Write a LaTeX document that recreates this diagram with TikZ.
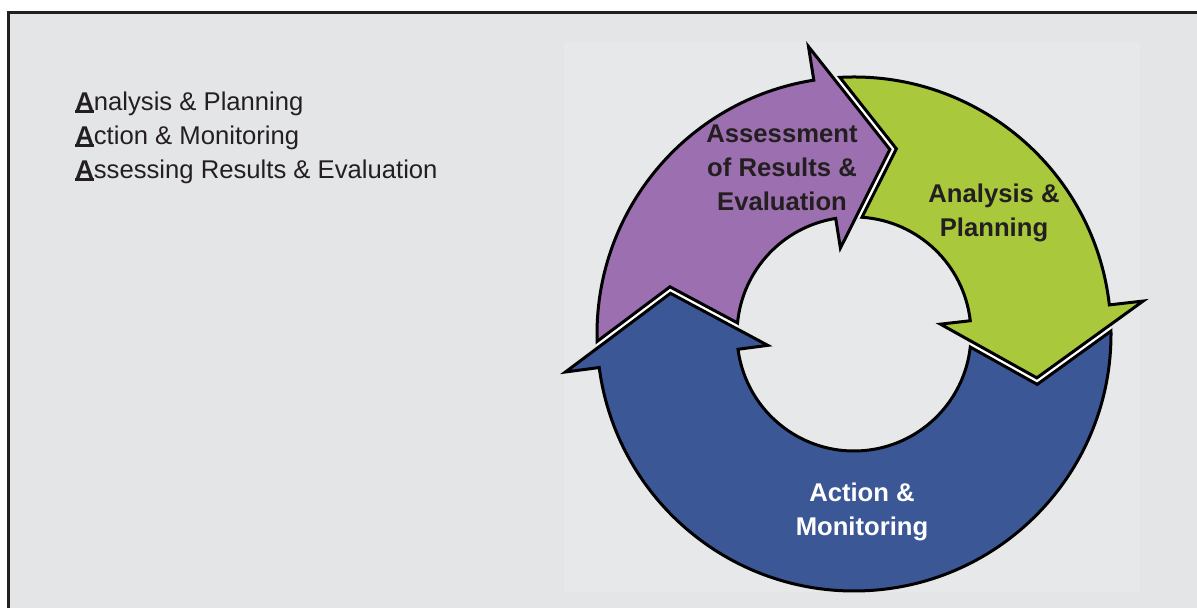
\documentclass[tikz,border=0pt]{standalone}
\usepackage{fontspec}
\setmainfont{Liberation Sans}
\usetikzlibrary{calc}

% bold, underlined first letter of the list lines
\newcommand{\firstA}{\setbox0=\hbox{\bfseries A}\rlap{\rule[-1.3pt]{\wd0}{1.5pt}}\box0}

\begin{document}
\begin{tikzpicture}[
    arrowpart/.style={draw=black, line width=0.06cm, line join=miter},
    listline/.style={anchor=base west, inner sep=0pt, text=textdark, font=\fontsize{14.6}{19.4}\selectfont},
    steplabel/.style={align=center, inner sep=0pt, font=\fontsize{14.6}{19.4}\selectfont\bfseries}
  ]
  \useasboundingbox (0,0) rectangle (23.94,12.16);

  % Changing colours
  \definecolor{textdark}{RGB}{35,31,32}%
  \definecolor{bggrey}{RGB}{228,229,231}%
  \definecolor{bglight}{RGB}{230,232,234}%
  \definecolor{cyclepurple}{RGB}{156,111,176}%
  \definecolor{cyclegreen}{RGB}{169,200,59}%
  \definecolor{cycleblue}{RGB}{59,87,150}%

  % Panel and its frame
  \fill[white] (0,0) rectangle (23.94,12.16);
  \fill[bggrey] (0.17,0) rectangle (23.94,11.91);
  \fill[bglight] (11.28,0.32) rectangle (22.80,11.32);
  \draw[line width=0.06cm, textdark] (23.94,11.91) -- (0.17,11.91) -- (0.17,0);

  % Marking the list
  \node[listline] (listplan) at (1.50,9.946) {\firstA nalysis \& Planning};
  \node[listline] (listact) at (1.50,9.274) {\firstA ction \& Monitoring};
  \node[listline] (listeval) at (1.50,8.594) {\firstA ssessing Results \& Evaluation};

  \begin{scope}[shift={(17.08,5.48)}]
    % White ring seen through the gaps
    \fill[white, even odd rule] (0,0) circle (5.14) (0,0) circle (2.34);

    % Drawing arrow assessment (tip 79)
    \draw[arrowpart, fill=cyclepurple] (181.65:5.14) arc[start angle=181.65, end angle=99, radius=5.14]
      -- (99:5.82) -- (79:3.76) -- (99:1.74) -- (99:2.34)
      arc[start angle=99, end angle=174.58, radius=2.34] -- (165.62:3.80) -- cycle;

    % Drawing arrow analysis (tip -13.5)
    \draw[arrowpart, fill=cyclegreen] (93.15:5.14) arc[start angle=93.15, end angle=6.5, radius=5.14]
      -- (6.5:5.82) -- (-13.5:3.76) -- (6.5:1.74) -- (6.5:2.34)
      arc[start angle=6.5, end angle=86.08, radius=2.34] -- (77.12:3.80) -- cycle;

    % Drawing arrow action (tip 167.5)
    \draw[arrowpart, fill=cycleblue] (0.65:5.14) arc[start angle=0.65, end angle=-172.5, radius=5.14]
      -- (-172.5:5.82) -- (-192.5:3.76) -- (-172.5:1.74) -- (-172.5:2.34)
      arc[start angle=-172.5, end angle=-6.42, radius=2.34] -- (-15.38:3.80) -- cycle;
  \end{scope}

  % Marking the step labels
  \node[steplabel, text=textdark] (assess) at (15.64,8.797) {Assessment\\of Results \&\\Evaluation};
  \node[steplabel, text=textdark] (analysis) at (19.88,7.898) {Analysis \&\\Planning};
  \node[steplabel, text=white] (action) at (17.24,1.917) {Action \&\\Monitoring};
\end{tikzpicture}
\end{document}
